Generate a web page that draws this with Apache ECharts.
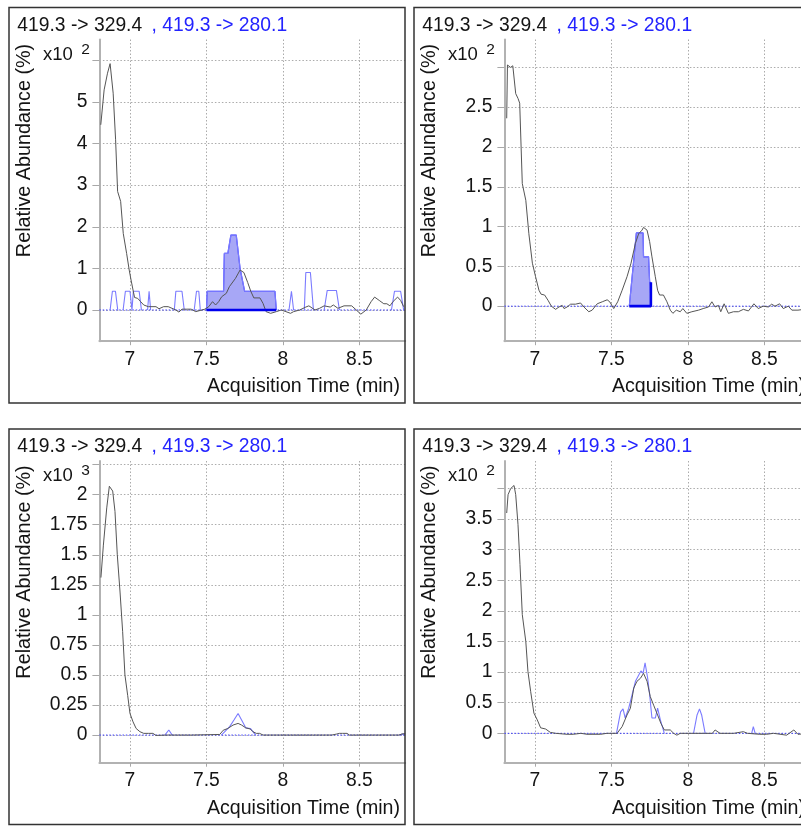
<!DOCTYPE html>
<html>
<head>
<meta charset="utf-8">
<title>MRM chromatograms 419.3 -> 329.4 / 419.3 -> 280.1</title>
<script src="https://cdn.jsdelivr.net/npm/echarts@6.0.0/dist/echarts.min.js"></script>
<style>
  html, body { margin: 0; padding: 0; background: #ffffff; }
  #chart { width: 801px; height: 826px; }
</style>
</head>
<body>
<div id="chart"></div>
<script>
// ---------------- data ----------------
const traceA = '419.3 -> 329.4';
const traceB = '419.3 -> 280.1';
const xAxisTitle = 'Acquisition Time (min)';
const yAxisTitle = 'Relative Abundance (%)';
const exponents = ['2', '2', '3', '2'];

const xRange = [6.8, 8.8];
const xTickValues = [7, 7.5, 8, 8.5];

const p1YRange = [-0.75, 6.5];
const p1YTicks = [0, 1, 2, 3, 4, 5, 6];
const p1YLabels = [0, 1, 2, 3, 4, 5];
const p2YRange = [-0.44, 3.35];
const p2YTicks = [0, 0.5, 1, 1.5, 2, 2.5, 3];
const p2YLabels = [0, 0.5, 1, 1.5, 2, 2.5];
const p3YRange = [-0.23, 2.28];
const p3YTicks = [0, 0.25, 0.5, 0.75, 1, 1.25, 1.5, 1.75, 2, 2.25];
const p3YLabels = [0, 0.25, 0.5, 0.75, 1, 1.25, 1.5, 1.75, 2];
const p4YRange = [-0.48, 4.45];
const p4YTicks = [0, 0.5, 1, 1.5, 2, 2.5, 3, 3.5, 4];
const p4YLabels = [0, 0.5, 1, 1.5, 2, 2.5, 3, 3.5];

// integration windows (start, end) in minutes; null = none
const p1Integration = [7.5, 7.957];
const p2Integration = [7.617, 7.758];

// panel 1 (x10^2)
const p1Black = [[6.809,4.45],[6.831,5.29],[6.853,5.69],[6.870,5.92],[6.890,5.21],[6.906,4.09],[6.919,2.85],[6.939,2.61],[6.956,1.84],[6.978,1.36],[6.995,0.96],[7.007,0.72],[7.02,0.48],[7.03,0.30],[7.05,0.28],[7.07,0.20],[7.09,0.12],[7.12,0.08],[7.17,0.08],[7.19,0.03],[7.22,0.08],[7.25,0.08],[7.30,0.0],[7.32,-0.05],[7.34,0.02],[7.37,0.02],[7.40,0.02],[7.43,-0.04],[7.49,0.02],[7.515,0.08],[7.54,0.2],[7.56,0.12],[7.58,0.2],[7.60,0.32],[7.63,0.4],[7.65,0.56],[7.69,0.76],[7.72,0.96],[7.745,0.9],[7.77,0.66],[7.79,0.45],[7.81,0.29],[7.85,0.29],[7.87,0.16],[7.89,-0.04],[7.92,-0.08],[7.957,-0.04],[7.99,0],[8.02,-0.04],[8.05,-0.08],[8.07,-0.04],[8.11,0],[8.15,0.07],[8.17,0.1],[8.21,0],[8.24,0.04],[8.27,0.1],[8.31,0.07],[8.33,0.12],[8.36,0.04],[8.40,0.1],[8.45,0.1],[8.48,0],[8.51,-0.1],[8.545,0],[8.577,0.2],[8.60,0.31],[8.63,0.23],[8.66,0.15],[8.68,0.15],[8.70,0.1],[8.72,0.2],[8.75,0.31],[8.77,0.23],[8.79,0.08]];
const p1Blue = [[6.80,0],[6.87,0],[6.885,0.45],[6.905,0.45],[6.92,0],[6.955,0],[6.97,0.45],[7.0,0.45],[7.013,0],[7.022,0.45],[7.06,0.45],[7.075,0],[7.115,0],[7.125,0.45],[7.135,0],[7.29,0],[7.30,0.45],[7.34,0.45],[7.355,0],[7.42,0],[7.435,0.45],[7.45,0.45],[7.46,0],[7.50,0],[7.505,0.45],[7.612,0.45],[7.617,1.36],[7.64,1.36],[7.66,1.8],[7.695,1.8],[7.72,1.0],[7.75,0.45],[7.948,0.45],[7.957,0],[8.04,0],[8.056,0.45],[8.07,0],[8.14,0],[8.15,0.9],[8.18,0.9],[8.20,0],[8.27,0],[8.29,0.47],[8.35,0.47],[8.37,0],[8.71,0],[8.73,0.45],[8.77,0.45],[8.79,0],[8.80,0]];

// panel 2 (x10^2)
const p2Black = [[6.815,2.36],[6.82,3.03],[6.83,3.03],[6.84,3.0],[6.855,3.02],[6.867,3.02],[6.874,2.67],[6.889,2.61],[6.9,2.55],[6.917,1.54],[6.94,1.33],[6.96,0.91],[6.983,0.54],[7.004,0.37],[7.026,0.2],[7.04,0.15],[7.063,0.14],[7.085,0.075],[7.107,0],[7.135,-0.04],[7.157,-0.01],[7.178,0.01],[7.19,-0.03],[7.21,-0.01],[7.233,0.025],[7.265,0.025],[7.298,0.04],[7.32,-0.01],[7.352,-0.07],[7.374,-0.05],[7.407,0.03],[7.44,0.055],[7.472,0.08],[7.489,0.055],[7.515,-0.03],[7.541,0.055],[7.57,0.2],[7.602,0.37],[7.628,0.54],[7.657,0.79],[7.678,0.91],[7.7,0.955],[7.71,0.99],[7.733,0.955],[7.75,0.81],[7.765,0.62],[7.787,0.37],[7.802,0.2],[7.815,0.14],[7.84,0.14],[7.863,0.055],[7.885,-0.05],[7.902,-0.09],[7.924,-0.05],[7.95,-0.07],[7.967,-0.03],[7.993,-0.09],[8.026,-0.07],[8.07,-0.05],[8.1,-0.03],[8.135,-0.01],[8.157,0.055],[8.178,-0.01],[8.2,0.01],[8.215,-0.07],[8.237,0.03],[8.265,-0.09],[8.298,-0.07],[8.33,-0.07],[8.363,-0.04],[8.396,-0.06],[8.432,0.03],[8.46,-0.03],[8.493,0],[8.526,-0.01],[8.548,0.025],[8.57,0],[8.6,0.03],[8.624,-0.03],[8.657,0],[8.68,-0.05],[8.72,-0.05],[8.76,-0.04],[8.8,-0.05]];
const p2Blue = [[6.80,0],[7.617,0],[7.663,0.92],[7.707,0.92],[7.71,0.62],[7.743,0.62],[7.75,0.3],[7.758,0.3],[7.762,0],[8.80,0]];

// panel 3 (x10^3)
const p3Black = [[6.81,1.31],[6.826,1.58],[6.848,1.89],[6.865,2.07],[6.876,2.08],[6.887,2.03],[6.902,1.86],[6.917,1.5],[6.935,1.19],[6.952,0.86],[6.967,0.5],[6.985,0.33],[7.0,0.18],[7.02,0.11],[7.04,0.055],[7.065,0.028],[7.09,0.014],[7.12,0.014],[7.15,0.014],[7.17,-0.003],[7.25,0],[7.4,0],[7.587,0.005],[7.61,0.04],[7.64,0.055],[7.674,0.083],[7.707,0.097],[7.73,0.083],[7.757,0.06],[7.787,0.05],[7.804,0.028],[7.826,0.014],[7.848,0.014],[7.87,0],[8.0,0],[8.2,0],[8.32,0],[8.33,0.014],[8.35,0.008],[8.37,0.014],[8.39,0.014],[8.42,0.014],[8.435,0],[8.6,0],[8.76,0],[8.78,0.01],[8.8,0.01]];
const p3Blue = [[6.80,0],[7.228,0],[7.254,0.042],[7.276,0],[7.598,0],[7.652,0.07],[7.68,0.125],[7.707,0.18],[7.73,0.125],[7.757,0.06],[7.787,0.055],[7.822,0],[8.76,0],[8.785,0.008],[8.80,0.008]];

// panel 4 (x10^2)
const p4Black = [[6.815,3.6],[6.824,3.9],[6.841,4.0],[6.863,4.05],[6.874,3.9],[6.889,3.41],[6.902,2.76],[6.917,1.94],[6.94,1.5],[6.954,1.01],[6.972,0.68],[6.993,0.33],[7.015,0.22],[7.037,0.09],[7.07,0.07],[7.1,0.016],[7.135,0],[7.21,-0.016],[7.25,-0.016],[7.3,0],[7.34,-0.016],[7.43,-0.016],[7.47,0],[7.537,0],[7.57,0.11],[7.602,0.3],[7.624,0.41],[7.646,0.74],[7.667,0.85],[7.69,0.9],[7.71,0.98],[7.733,0.85],[7.754,0.6],[7.776,0.46],[7.802,0.3],[7.824,0.16],[7.846,0.055],[7.885,0.055],[7.907,0],[7.928,-0.03],[7.95,0],[8.015,0],[8.1,0],[8.16,0],[8.178,0.055],[8.21,0],[8.3,0],[8.363,0.027],[8.39,0],[8.47,-0.016],[8.515,-0.016],[8.56,0],[8.646,-0.03],[8.693,0.055],[8.72,-0.016],[8.8,0]];
const p4Blue = [[6.80,0],[7.533,0],[7.56,0.35],[7.576,0.4],[7.59,0.25],[7.613,0.41],[7.635,0.63],[7.657,0.85],[7.678,0.95],[7.693,1.02],[7.707,0.98],[7.72,1.15],[7.737,0.9],[7.75,0.63],[7.765,0.25],[7.787,0.25],[7.802,0.41],[7.82,0.22],[7.846,0],[8.037,0],[8.06,0.3],[8.076,0.4],[8.09,0.3],[8.113,0],[8.417,0],[8.428,0.11],[8.44,0],[8.80,0]];

// ---------------- layout / style ----------------
const FONT = "'Liberation Sans', Arial, Helvetica, sans-serif";
const panels = [
  { ox: 9,   oy: 7.5, yRange: p1YRange, yTicks: p1YTicks, yLabels: p1YLabels, black: p1Black, blue: p1Blue, integ: p1Integration },
  { ox: 414, oy: 7.5, yRange: p2YRange, yTicks: p2YTicks, yLabels: p2YLabels, black: p2Black, blue: p2Blue, integ: p2Integration },
  { ox: 9,   oy: 429, yRange: p3YRange, yTicks: p3YTicks, yLabels: p3YLabels, black: p3Black, blue: p3Blue, integ: null },
  { ox: 414, oy: 429, yRange: p4YRange, yTicks: p4YTicks, yLabels: p4YLabels, black: p4Black, blue: p4Blue, integ: null }
];

const GRID_LEFT = 90.4, GRID_TOP = 32, GRID_W = 305.8, GRID_H = 301.7;
const PANEL_W = 396, PANEL_H = 395.5;
const TEXT = '#141414';

function gapZeroRuns(pts) {
  // hide flat zero stretches so only the dotted zero baseline shows there
  const out = [];
  for (let i = 0; i < pts.length; i++) {
    out.push(pts[i]);
    if (i < pts.length - 1 && pts[i][1] === 0 && pts[i + 1][1] === 0) {
      out.push([(pts[i][0] + pts[i + 1][0]) / 2, null]);
    }
  }
  return out;
}

const grids = [], xAxes = [], yAxes = [], series = [], graphics = [];

panels.forEach((p, i) => {
  grids.push({ left: p.ox + GRID_LEFT, top: p.oy + GRID_TOP, width: GRID_W, height: GRID_H,
               containLabel: false, outerBoundsMode: 'none' });
  xAxes.push({
    gridIndex: i, type: 'value', min: xRange[0], max: xRange[1], position: 'bottom',
    axisLine: { show: true, onZero: false, lineStyle: { color: '#b2b2b2', width: 2 } },
    axisTick: { show: true, inside: false, length: 4, customValues: xTickValues, lineStyle: { color: '#a8a8a8', width: 1 } },
    axisLabel: { show: true, customValues: xTickValues, margin: 8.5, fontSize: 19.3, fontFamily: FONT, color: TEXT },
    splitLine: { show: true, lineStyle: { color: '#ababab', width: 1, type: [1.5, 2] } }
  });
  yAxes.push({
    gridIndex: i, type: 'value', min: p.yRange[0], max: p.yRange[1],
    axisLine: { show: true, onZero: false, lineStyle: { color: '#b2b2b2', width: 2 } },
    axisTick: { show: true, inside: false, length: 7, customValues: p.yTicks, lineStyle: { color: '#a8a8a8', width: 1 } },
    axisLabel: { show: true, customValues: p.yLabels, margin: 12, fontSize: 19.3, fontFamily: FONT, color: TEXT },
    splitLine: { show: true, lineStyle: { color: '#ababab', width: 1, type: [1.5, 2] } }
  });

  // dotted blue zero baseline
  series.push({
    type: 'line', xAxisIndex: i, yAxisIndex: i, silent: true, symbol: 'none', z: 3,
    data: [[xRange[0], 0], [xRange[1], 0]],
    lineStyle: { color: '#3b3bff', width: 1, type: [1.5, 1.8] }
  });

  if (p.integ) {
    const s = p.integ[0], e = p.integ[1];
    const fillPts = p.blue.filter(d => d[0] >= s - 1e-9 && d[0] <= e + 1e-9);
    const endPt = fillPts[fillPts.length - 1];
    series.push({
      type: 'line', xAxisIndex: i, yAxisIndex: i, silent: true, symbol: 'none', z: 2,
      data: fillPts,
      lineStyle: { color: '#4a4aff', width: 1.2 },
      areaStyle: { color: 'rgba(70,70,235,0.68)', origin: 0 }
    });
    series.push({
      type: 'line', xAxisIndex: i, yAxisIndex: i, silent: true, symbol: 'none', z: 6,
      data: [[s, 0], [e, 0], [e, endPt[1]]],
      lineStyle: { color: '#0000ee', width: 2.6 }
    });
  }

  // 419.3 -> 280.1 trace
  series.push({
    type: 'line', xAxisIndex: i, yAxisIndex: i, silent: true, symbol: 'none', z: 4,
    connectNulls: false, data: gapZeroRuns(p.blue),
    lineStyle: { color: '#7b7bff', width: 1.1 }
  });
  // 419.3 -> 329.4 trace
  series.push({
    type: 'line', xAxisIndex: i, yAxisIndex: i, silent: true, symbol: 'none', z: 5,
    data: p.black,
    lineStyle: { color: '#555555', width: 1 }
  });

  // panel frame
  graphics.push({ type: 'rect', silent: true, z: 10,
    shape: { x: p.ox, y: p.oy, width: PANEL_W, height: PANEL_H },
    style: { fill: null, stroke: '#333333', lineWidth: 1.5 } });
  // titles
  graphics.push({ type: 'text', silent: true, z: 10, x: p.ox + 8.3, y: p.oy + 17.7,
    style: { text: traceA, fill: TEXT, font: '19.3px ' + FONT, textAlign: 'left', textVerticalAlign: 'middle', align: 'left', verticalAlign: 'middle' } });
  graphics.push({ type: 'text', silent: true, z: 10, x: p.ox + 142.5, y: p.oy + 17.7,
    style: { text: ', ' + traceB, fill: '#2323ff', font: '19.3px ' + FONT, textAlign: 'left', textVerticalAlign: 'middle', align: 'left', verticalAlign: 'middle' } });
  // exponent label
  graphics.push({ type: 'text', silent: true, z: 10, x: p.ox + 34, y: p.oy + 47.2,
    style: { text: 'x10', fill: TEXT, font: '18.5px ' + FONT, textAlign: 'left', textVerticalAlign: 'middle', align: 'left', verticalAlign: 'middle' } });
  graphics.push({ type: 'text', silent: true, z: 10, x: p.ox + 72.3, y: p.oy + 42,
    style: { text: exponents[i], fill: TEXT, font: '15.5px ' + FONT, textAlign: 'left', textVerticalAlign: 'middle', align: 'left', verticalAlign: 'middle' } });
  // y axis title
  graphics.push({ type: 'text', silent: true, z: 10, x: p.ox + 15.5, y: p.oy + 143, rotation: Math.PI / 2,
    style: { text: yAxisTitle, fill: TEXT, font: '19.8px ' + FONT, textAlign: 'center', textVerticalAlign: 'middle', align: 'center', verticalAlign: 'middle' } });
  // x axis title
  graphics.push({ type: 'text', silent: true, z: 10, x: p.ox + 391, y: p.oy + 379.4,
    style: { text: xAxisTitle, fill: TEXT, font: '19.6px ' + FONT, textAlign: 'right', textVerticalAlign: 'middle', align: 'right', verticalAlign: 'middle' } });
});

const chart = echarts.init(document.getElementById('chart'), null, { renderer: 'canvas', width: 801, height: 826 });
chart.setOption({
  animation: false,
  backgroundColor: '#ffffff',
  grid: grids,
  xAxis: xAxes,
  yAxis: yAxes,
  series: series,
  graphic: graphics
});
</script>
</body>
</html>
